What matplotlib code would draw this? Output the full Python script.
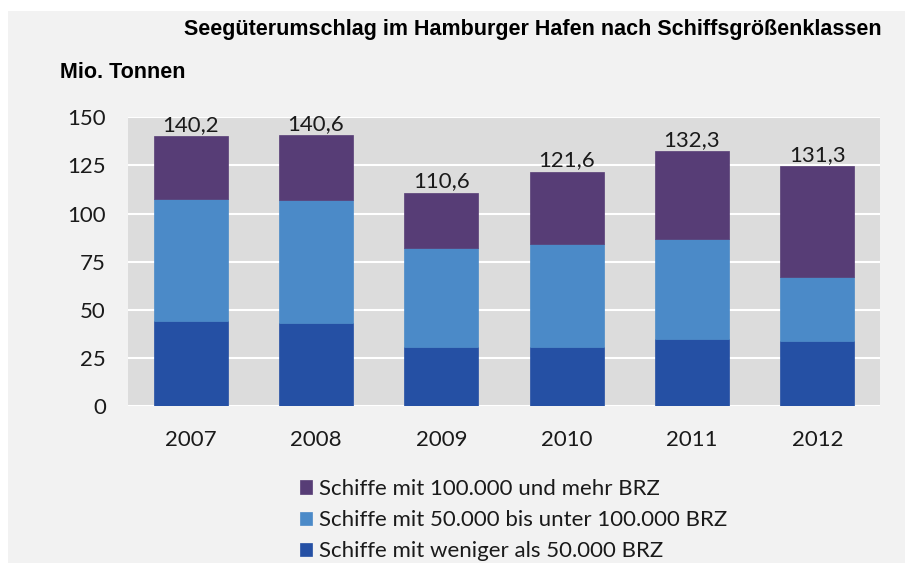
import numpy as np
import matplotlib.pyplot as plt
from matplotlib.patches import Rectangle

years = ["2007", "2008", "2009", "2010", "2011", "2012"]
small = [44.1, 43.0, 30.6, 30.6, 34.8, 33.6]
medium = [63.4, 64.0, 51.3, 53.7, 52.0, 33.6]
large = [32.7, 33.6, 28.7, 37.3, 45.5, 57.3]
total_labels = ["140,2", "140,6", "110,6", "121,6", "132,3", "131,3"]
series_names = [
    "Schiffe mit weniger als 50.000 BRZ",
    "Schiffe mit 50.000 bis unter 100.000 BRZ",
    "Schiffe mit 100.000 und mehr BRZ",
]
colors = ["#2550a4", "#4b8ac8", "#573d76"]

font = ["Lato", "DejaVu Sans"]
plt.rcParams["font.family"] = font

fig = plt.figure(figsize=(9.05, 5.63), dpi=100)
fig.patch.set_facecolor("white")
# grey chart area with thin white border top/left
fig.patches.append(Rectangle((8 / 905, 0), 1, 1 - 11 / 563, transform=fig.transFigure,
                             facecolor="#f2f2f2", edgecolor="none", zorder=-10))

ax = fig.add_axes([128 / 905, 1 - 406 / 563, 752 / 905, (406 - 117.3) / 563])
ax.set_facecolor("#dcdcdc")
x = np.arange(len(years))
w = 0.59
bottom = np.zeros(len(years))
bars = []
for vals, c, name in zip([small, medium, large], colors, series_names):
    b = ax.bar(x, vals, w, bottom=bottom, color=c, label=name, zorder=3,
               edgecolor=c, linewidth=0.5)
    bars.append(b)
    bottom = bottom + np.array(vals)

for xi, top, lab in zip(x, bottom, total_labels):
    ax.text(xi, top + 0.8, lab, ha="center", va="bottom", fontsize=16, color="#1a1a1a")

ax.set_xlim(-0.5, len(years) - 0.5)
ax.set_ylim(0, 150)
ax.set_yticks(np.arange(0, 151, 25))
ax.set_xticks(x)
ax.set_xticklabels(years)
ax.grid(axis="y", color="white", linewidth=1.5, zorder=0)
ax.set_axisbelow(True)
for s in ax.spines.values():
    s.set_visible(False)
ax.tick_params(length=0, labelsize=16, colors="#1a1a1a")
ax.tick_params(axis="y", pad=16)
ax.tick_params(axis="x", pad=17)

title_font = ["Liberation Sans", "DejaVu Sans"]
fig.text(882 / 905, 1 - 29 / 563, "Seegüterumschlag im Hamburger Hafen nach Schiffsgrößenklassen",
         ha="right", va="center", fontsize=15.5, fontweight="bold", family=title_font)
fig.text(60 / 905, 1 - 72 / 563, "Mio. Tonnen", ha="left", va="center",
         fontsize=15.5, fontweight="bold", family=title_font)

handles = [bars[2], bars[1], bars[0]]
labels = [series_names[2], series_names[1], series_names[0]]
leg = fig.legend(handles, labels, loc="upper left", bbox_to_anchor=(300 / 905, 1 - 479 / 563),
                 frameon=False, fontsize=16, handlelength=0.55, handleheight=0.55,
                 handletextpad=0.3, labelspacing=0.5, borderaxespad=0, borderpad=0)
for t in leg.get_texts():
    t.set_color("#1a1a1a")

fig.savefig("out.png", dpi=100, facecolor=fig.get_facecolor())
